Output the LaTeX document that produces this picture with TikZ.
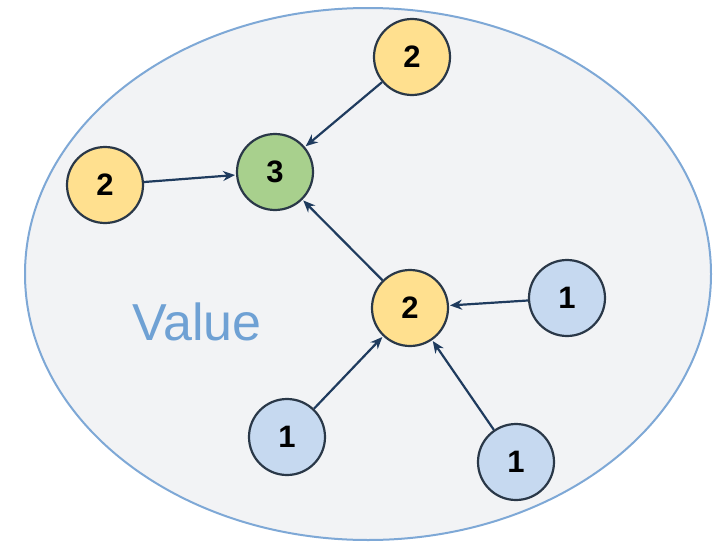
\documentclass[tikz,border=0pt]{standalone}
\usepackage{fontspec}
\setmainfont{Liberation Sans}
\usetikzlibrary{arrows.meta}
\definecolor{bgfill}{HTML}{F2F3F5}
\definecolor{bgline}{HTML}{7EA8D6}
\definecolor{yel}{HTML}{FFE08F}
\definecolor{grn}{HTML}{A8D08D}
\definecolor{blu}{HTML}{C6D9F0}
\definecolor{nodeline}{HTML}{2A3848}
\definecolor{arrowc}{HTML}{1F3B5E}
\definecolor{valc}{HTML}{6FA1D4}
\tikzset{
  vnode/.style={circle, draw=nodeline, line width=2.2pt, minimum size=76pt, inner sep=0pt,
    font=\fontsize{31}{31}\selectfont\bfseries},
  ynode/.style={vnode, fill=yel},
  gnode/.style={vnode, fill=grn},
  bnode/.style={vnode, fill=blu},
  conn/.style={draw=arrowc, line width=2.2pt, -{Stealth[length=12pt,width=10pt]}, shorten >=1pt}
}
\begin{document}
\begin{tikzpicture}[x=1pt,y=-1pt]
\useasboundingbox (0,0) rectangle (723,546);
\draw[fill=bgfill, draw=bgline, line width=2pt] (368,274) ellipse [x radius=343, y radius=266];
\node[text=valc, font=\fontsize{52}{52}\selectfont] (val) at (197,322) {Value};
\node[ynode] (t2) at (412,57) {2};
\node[ynode] (l2) at (105,185) {2};
\node[gnode] (g3) at (275,172) {3};
\node[ynode] (m2) at (410,308) {2};
\node[bnode] (r1) at (567,298) {1};
\node[bnode] (bl1) at (287,437) {1};
\node[bnode] (br1) at (516,462) {1};
\draw[conn] (t2) -- (g3);
\draw[conn] (l2) -- (g3);
\draw[conn] (m2) -- (g3);
\draw[conn] (r1) -- (m2);
\draw[conn] (bl1) -- (m2);
\draw[conn] (br1) -- (m2);
\end{tikzpicture}
\end{document}
